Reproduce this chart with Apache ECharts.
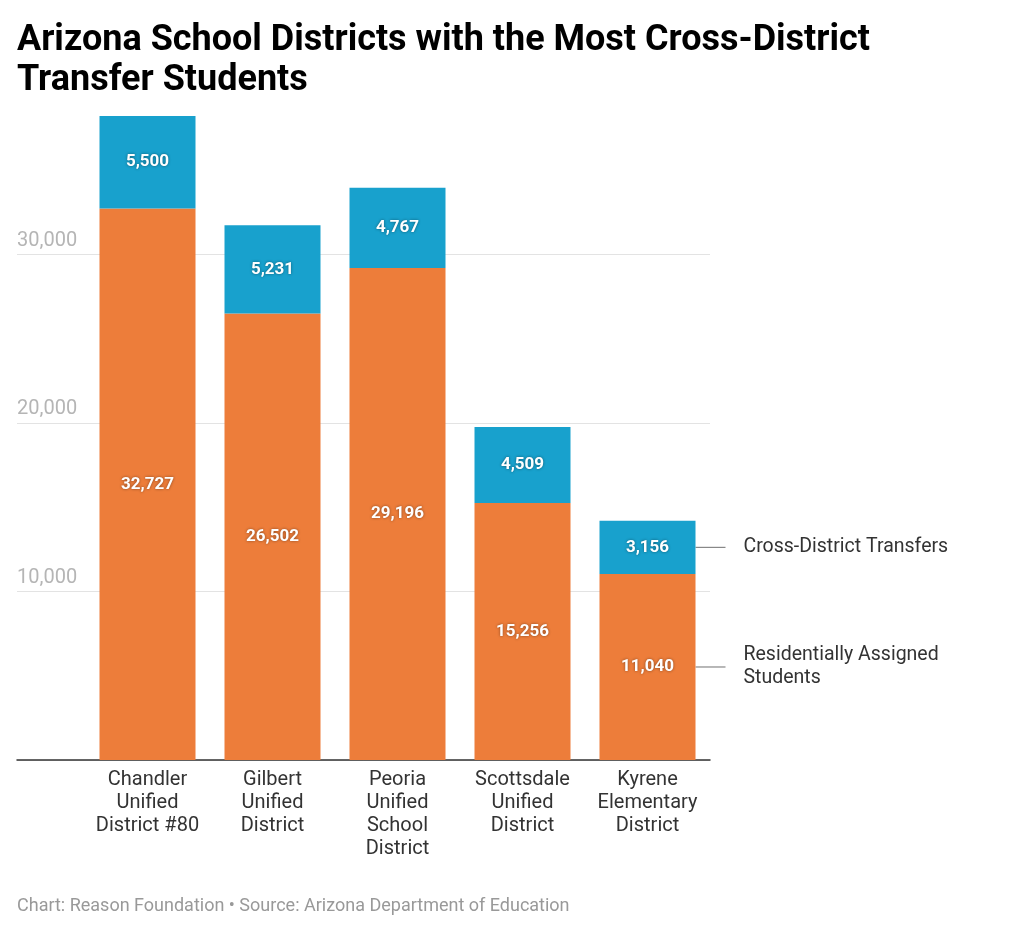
<!DOCTYPE html>
<html><head><meta charset="utf-8">
<script src="https://cdn.jsdelivr.net/npm/echarts@6/dist/echarts.min.js"></script>
<style>html,body{margin:0;padding:0;background:#fff;}#c{width:1024px;height:932px;}</style>
</head><body><div id="c"></div>
<script>
const categories = ['Chandler\nUnified\nDistrict #80','Gilbert\nUnified\nDistrict','Peoria\nUnified\nSchool\nDistrict','Scottsdale\nUnified\nDistrict','Kyrene\nElementary\nDistrict'];
const residential = [32727, 26502, 29196, 15256, 11040];
const transfers = [5500, 5231, 4767, 4509, 3156];
const seriesNames = ['Residentially Assigned\nStudents', 'Cross-District Transfers'];
const yTicks = [0, 10000, 20000, 30000, 40000];

const FONT = 'Roboto, "Noto Sans", sans-serif';
const ORANGE = '#ed7d3a';
const BLUE = '#18a1cd';
const valueLabel = {
  show: true, position: 'inside', color: '#fff', fontFamily: FONT, fontSize: 17, fontWeight: 'bold',
  textShadowColor: 'rgba(0,0,0,0.45)', textShadowBlur: 3,
  formatter: p => p.value.toLocaleString('en-US')
};
const chart = echarts.init(document.getElementById('c'));
const yMin = yTicks[0], yMax = yTicks[yTicks.length-1], yInt = yTicks[1]-yTicks[0];
chart.setOption({
  backgroundColor: '#fff',
  animation: false,
  title: [{
    text: 'Arizona School Districts with the Most Cross-District\nTransfer Students',
    left: 12, top: 16,
    textStyle: {fontFamily: FONT, fontSize: 36, fontWeight: 'bold', color: '#000', lineHeight: 40}
  }, {
    text: 'Chart: Reason Foundation • Source: Arizona Department of Education',
    left: 12, top: 892,
    textStyle: {fontFamily: FONT, fontSize: 18, fontWeight: 'normal', color: '#999'}
  }],
  grid: [
    {left: 17, right: 314, top: 86, bottom: 172},
    {left: 85, right: 314, top: 86, bottom: 172}
  ],
  xAxis: [
    {gridIndex: 0, type: 'category', data: [''], axisLine: {show: true, lineStyle: {color: '#333', width: 1.5}},
      axisTick: {show: false}, axisLabel: {show: false}},
    {gridIndex: 1, type: 'category', data: categories, axisLine: {show: false}, axisTick: {show: false},
      axisLabel: {interval: 0, hideOverlap: false, fontFamily: FONT, fontSize: 20, color: '#333', lineHeight: 23, margin: 8}}
  ],
  yAxis: [
    {gridIndex: 0, type: 'value', min: yMin, max: yMax, interval: yInt,
      axisLine: {show: false}, axisTick: {show: false},
      splitLine: {show: true, lineStyle: {color: ['#e3e3e3','#e3e3e3','#e3e3e3','#e3e3e3','rgba(0,0,0,0)'], width: 1}},
      axisLabel: {inside: true, margin: 0, verticalAlign: 'bottom', padding: [0,0,4,0],
        fontFamily: FONT, fontSize: 20, color: '#b5b5b5',
        formatter: v => (v === yMin || v === yMax) ? '' : v.toLocaleString('en-US')}},
    {gridIndex: 1, type: 'value', min: yMin, max: yMax, interval: yInt, show: false, splitLine: {show: false}}
  ],
  series: [
    {name: seriesNames[0], type: 'bar', xAxisIndex: 1, yAxisIndex: 1, stack: 's', barWidth: 96,
      data: residential, itemStyle: {color: ORANGE}, label: valueLabel},
    {name: seriesNames[1], type: 'bar', xAxisIndex: 1, yAxisIndex: 1, stack: 's', barWidth: 96,
      data: transfers, itemStyle: {color: BLUE}, label: valueLabel}
  ]
});
// leader labels attached to last bar
const last = categories.length - 1;
const graphics = [];
const mids = [residential[last] / 2, residential[last] + transfers[last] / 2];
mids.forEach((m, i) => {
  const p = chart.convertToPixel({xAxisIndex: 1, yAxisIndex: 1}, [last, m]);
  const edge = p[0] + 48;
  graphics.push({type: 'line', shape: {x1: edge, y1: p[1], x2: edge + 30, y2: p[1]}, style: {stroke: '#888', lineWidth: 1.2}});
  graphics.push({type: 'text', x: edge + 48, y: p[1], style: {text: seriesNames[i], fontFamily: FONT, fontSize: 19.5, fill: '#333', lineHeight: 23, verticalAlign: 'middle', align: 'left'}});
});
chart.setOption({graphic: graphics});
</script></body></html>
